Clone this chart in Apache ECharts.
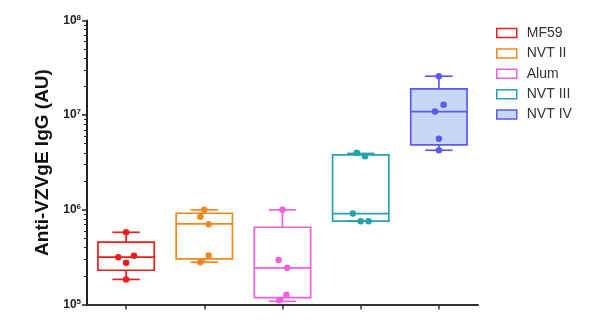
<!DOCTYPE html>
<html><head><meta charset="utf-8">
<script src="https://cdn.jsdelivr.net/npm/echarts@6/dist/echarts.min.js"></script>
<style>html,body{margin:0;padding:0;background:#fff}#c{width:600px;height:320px}</style>
</head><body><div id="c"></div>
<script>
// ---- data ----
const groups = ['MF59', 'NVT II', 'Alum', 'NVT III', 'NVT IV'];
const boxMin    = [1.84e5, 2.80e5, 1.08e5, 7.59e5, 4.26e6];
const boxQ1     = [2.30e5, 3.04e5, 1.18e5, 7.59e5, 4.86e6];
const boxMedian = [3.16e5, 7.11e5, 2.44e5, 9.14e5, 1.09e7];
const boxQ3     = [4.55e5, 9.20e5, 6.55e5, 3.80e6, 1.90e7];
const boxMax    = [5.79e5, 1.00e6, 1.00e6, 3.94e6, 2.58e7];
const pointsMF59  = [5.79e5, 3.16e5, 3.27e5, 2.76e5, 1.84e5];
const pointsNVT2  = [1.00e6, 8.43e5, 7.05e5, 3.29e5, 2.80e5];
const pointsAlum  = [1.00e6, 2.96e5, 2.44e5, 1.27e5, 1.11e5];
const pointsNVT3  = [4.00e6, 3.68e6, 9.14e5, 7.59e5, 7.59e5];
const pointsNVT4  = [2.58e7, 1.29e7, 1.09e7, 5.62e6, 4.26e6];
const jitterMF59 = [0, -0.1, 0.1, 0, 0];
const jitterNVT2 = [0, -0.05, 0.055, 0.055, -0.05];
const jitterAlum = [0, -0.05, 0.06, 0.05, -0.04];
const jitterNVT3 = [-0.05, 0.055, -0.1, 0, 0.1];
const jitterNVT4 = [0, 0.06, -0.05, 0, 0];
const yTickValues = [1e5, 1e6, 1e7, 1e8];
const yMinorValues = [2e5,3e5,4e5,5e5,6e5,7e5,8e5,9e5,2e6,3e6,4e6,5e6,6e6,7e6,8e6,9e6,2e7,3e7,4e7,5e7,6e7,7e7,8e7,9e7];

// ---- styles ----
const colors = ['#ee1c1c', '#f5861c', '#f060de', '#27a0ae', '#5a5af0'];
const fills  = ['#ffffff', '#ffffff', '#ffffff', '#ffffff', '#c6d8f5'];
const FONT = '"Liberation Sans", Arial, Helvetica, sans-serif';
const allPoints = [pointsMF59, pointsNVT2, pointsAlum, pointsNVT3, pointsNVT4];
const allJitter = [jitterMF59, jitterNVT2, jitterAlum, jitterNVT3, jitterNVT4];

const chart = echarts.init(document.getElementById('c'));

function renderBox(params, api) {
  const x = api.value(0);
  const c = k => api.coord([x, api.value(k)]);
  const pMin = c(1), pQ1 = c(2), pMed = c(3), pQ3 = c(4), pMax = c(5);
  const band = api.coord([1, api.value(3)])[0] - api.coord([0, api.value(3)])[0];
  const bw = band * 0.72, cw = band * 0.35;
  const cx = pMed[0];
  const col = colors[x], fill = fills[x];
  const ls = { stroke: col, lineWidth: 1.7 };
  return {
    type: 'group',
    children: [
      { type: 'rect', shape: { x: cx - bw / 2, y: pQ3[1], width: bw, height: pQ1[1] - pQ3[1] }, style: { fill: fill, stroke: col, lineWidth: 1.7 } },
      { type: 'line', shape: { x1: cx - bw / 2, y1: pMed[1], x2: cx + bw / 2, y2: pMed[1] }, style: ls },
      { type: 'line', shape: { x1: cx, y1: pQ3[1], x2: cx, y2: pMax[1] }, style: ls },
      { type: 'line', shape: { x1: cx, y1: pQ1[1], x2: cx, y2: pMin[1] }, style: ls },
      { type: 'line', shape: { x1: cx - cw / 2, y1: pMax[1], x2: cx + cw / 2, y2: pMax[1] }, style: ls },
      { type: 'line', shape: { x1: cx - cw / 2, y1: pMin[1], x2: cx + cw / 2, y2: pMin[1] }, style: ls }
    ]
  };
}

const series = [];
groups.forEach((g, i) => {
  series.push({
    name: g, type: 'custom', xAxisIndex: 0, yAxisIndex: 0,
    itemStyle: { color: fills[i], borderColor: colors[i] },
    renderItem: renderBox,
    encode: { x: 0, y: [1, 2, 3, 4, 5] },
    data: [[i, boxMin[i], boxQ1[i], boxMedian[i], boxQ3[i], boxMax[i]]],
    z: 2
  });
});
groups.forEach((g, i) => {
  series.push({
    name: g + ' points', type: 'scatter', xAxisIndex: 1, yAxisIndex: 0,
    symbol: 'circle', symbolSize: 6.5,
    itemStyle: { color: colors[i], opacity: 1 },
    data: allPoints[i].map((v, k) => [i + allJitter[i][k], v]),
    z: 5
  });
});

chart.setOption({
  animation: false,
  textStyle: { fontFamily: FONT },
  grid: { left: 87, right: 122, top: 20.5, bottom: 15.5 },
  legend: {
    orient: 'vertical', left: 496, top: 25, padding: 0,
    itemWidth: 20, itemHeight: 9, itemGap: 4.4,
    textStyle: { fontSize: 14, lineHeight: 16, color: '#333', fontFamily: FONT, padding: [0, 0, 0, 5] },
    data: groups.map((g, i) => ({
      name: g, icon: 'rect',
      itemStyle: { color: fills[i], borderColor: colors[i], borderWidth: 1.5 }
    }))
  },
  xAxis: [
    {
      type: 'category', data: groups, boundaryGap: true,
      axisLine: { show: true, onZero: false, lineStyle: { color: '#333', width: 2 } },
      axisTick: { show: true, interval: 0, alignWithLabel: true, inside: false, length: 5, lineStyle: { color: '#333', width: 1.5 } },
      axisLabel: { show: true, interval: 0, formatter: () => '' }, splitLine: { show: false }
    },
    { type: 'value', min: -0.5, max: 4.5, show: false }
  ],
  yAxis: [
    {
      type: 'log', logBase: 10, min: 1e5, max: 1e8,
      name: 'Anti-VZVgE IgG (AU)', nameLocation: 'middle', nameGap: 32,
      nameTextStyle: { fontSize: 19, fontWeight: 'bold', color: '#111', fontFamily: FONT },
      axisLine: { show: true, onZero: false, lineStyle: { color: '#222', width: 2 } },
      axisTick: { show: true, length: 5, customValues: yTickValues, lineStyle: { color: '#222', width: 1.5 } },
      axisLabel: {
        customValues: yTickValues, margin: 6,
        formatter: v => '{b|10}{s|' + Math.round(Math.log10(v)) + '}',
        rich: {
          b: { fontSize: 12, fontWeight: 'bold', color: '#222', fontFamily: FONT, lineHeight: 14 },
          s: { fontSize: 8, fontWeight: 'bold', color: '#222', fontFamily: FONT, verticalAlign: 'top', lineHeight: 8, padding: [0, 0, 8, 0] }
        }
      },
      splitLine: { show: false }
    },
    {
      type: 'log', logBase: 10, min: 1e5, max: 1e8, position: 'left',
      axisLine: { show: false, onZero: false },
      axisTick: { show: true, length: 3, customValues: yMinorValues, lineStyle: { color: '#222', width: 1 } },
      axisLabel: { show: false }, splitLine: { show: false }
    }
  ],
  series: series
});
</script>
</body></html>
